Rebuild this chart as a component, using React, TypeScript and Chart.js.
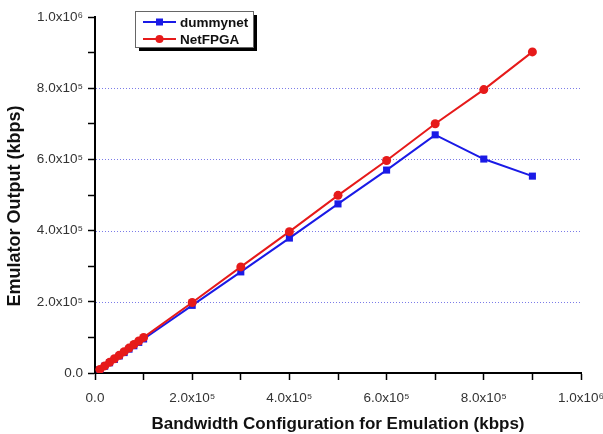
import React, { useEffect, useRef } from "react";
import { Chart, registerables } from "chart.js";

Chart.register(...registerables);

const bandwidthConfig = [10000, 20000, 30000, 40000, 50000, 60000, 70000, 80000, 90000, 100000, 200000, 300000, 400000, 500000, 600000, 700000, 800000, 900000];
const dummynetOutput = [9600, 19100, 28700, 38300, 47800, 57400, 67000, 76500, 86000, 95600, 190000, 284000, 379000, 475000, 570000, 669000, 601000, 553000];
const netfpgaOutput = [10000, 20000, 30000, 40000, 50000, 60000, 70000, 80000, 90000, 100000, 198000, 298000, 397000, 499000, 597000, 700000, 796000, 902000];

const tickValues = [0, 200000, 400000, 600000, 800000, 1000000];
const tickLabels = ["0.0", "2.0x10⁵", "4.0x10⁵", "6.0x10⁵", "8.0x10⁵", "1.0x10⁶"];
const gridValues = [200000, 400000, 600000, 800000];

const seriesNames = ["dummynet", "NetFPGA"];
const xTitle = "Bandwidth Configuration for Emulation (kbps)";
const yTitle = "Emulator Output (kbps)";
const BLUE = "#1a1ae6";
const RED = "#e61a1a";
const FAMILY = "'Liberation Sans', Arial, sans-serif";

const labelFor = (v: number) => {
  const i = tickValues.findIndex((t) => Math.abs(t - v) < 1);
  return i >= 0 ? tickLabels[i] : "";
};

const gridPlugin = {
  id: "dottedGrid",
  beforeDatasetsDraw(chart: any) {
    const { ctx, chartArea, scales } = chart;
    ctx.save();
    ctx.strokeStyle = "#7b7be8";
    ctx.lineWidth = 1;
    ctx.setLineDash([1, 2]);
    gridValues.forEach((v) => {
      const y = Math.round(scales.y.getPixelForValue(v)) + 0.5;
      ctx.beginPath();
      ctx.moveTo(chartArea.left + 1, y);
      ctx.lineTo(chartArea.right, y);
      ctx.stroke();
    });
    ctx.restore();
  },
};

const titlePlugin = {
  id: "axisTitles",
  afterDraw(chart: any) {
    const { ctx, chartArea } = chart;
    ctx.save();
    ctx.fillStyle = "#111";
    ctx.font = `bold 17px ${FAMILY}`;
    ctx.textAlign = "center";
    ctx.textBaseline = "alphabetic";
    ctx.fillText(xTitle, (chartArea.left + chartArea.right) / 2, 429);
    ctx.translate(15.5, 206);
    ctx.rotate(-Math.PI / 2);
    ctx.font = `bold 18px ${FAMILY}`;
    ctx.textBaseline = "middle";
    ctx.fillText(yTitle, 0, 0);
    ctx.restore();
  },
};

const legendPlugin = {
  id: "boxLegend",
  afterDraw(chart: any) {
    const { ctx } = chart;
    const x = 135, y = 11, w = 118, h = 36;
    ctx.save();
    ctx.fillStyle = "#000";
    ctx.fillRect(x + 4, y + 4, w, h);
    ctx.fillStyle = "#fff";
    ctx.fillRect(x, y, w, h);
    ctx.strokeStyle = "#666";
    ctx.lineWidth = 1;
    ctx.strokeRect(x + 0.5, y + 0.5, w, h);
    const rows = [y + 11, y + 28];
    const colors = [BLUE, RED];
    rows.forEach((ry, i) => {
      ctx.strokeStyle = colors[i];
      ctx.lineWidth = 2;
      ctx.beginPath();
      ctx.moveTo(x + 8, ry);
      ctx.lineTo(x + 41, ry);
      ctx.stroke();
      ctx.fillStyle = colors[i];
      if (i === 0) {
        ctx.fillRect(x + 21, ry - 3.5, 7, 7);
      } else {
        ctx.beginPath();
        ctx.arc(x + 24.5, ry, 4, 0, Math.PI * 2);
        ctx.fill();
      }
      ctx.fillStyle = "#111";
      ctx.font = `bold 13.5px ${FAMILY}`;
      ctx.textBaseline = "middle";
      ctx.textAlign = "left";
      ctx.fillText(seriesNames[i], x + 45, ry + 1);
    });
    ctx.restore();
  },
};

export default function App() {
  const ref = useRef<HTMLCanvasElement>(null);
  useEffect(() => {
    document.body.style.margin = "0";
    const canvas = ref.current;
    if (!canvas) return;
    const tickFont = { family: FAMILY, size: 13.5 };
    const chart = new Chart(canvas, {
      type: "line",
      data: {
        datasets: [
          {
            label: seriesNames[0],
            data: bandwidthConfig.map((x, i) => ({ x, y: dummynetOutput[i] })),
            borderColor: BLUE,
            backgroundColor: BLUE,
            borderWidth: 2,
            pointStyle: "rect",
            pointRadius: 5,
            pointBorderWidth: 0,
            order: 1,
          },
          {
            label: seriesNames[1],
            data: bandwidthConfig.map((x, i) => ({ x, y: netfpgaOutput[i] })),
            borderColor: RED,
            backgroundColor: RED,
            borderWidth: 2,
            pointStyle: "circle",
            pointRadius: 4.5,
            pointBorderWidth: 0,
            order: 0,
          },
        ],
      },
      options: {
        responsive: false,
        animation: false,
        layout: { padding: { top: 17, right: 22, left: 0, bottom: 0 } },
        plugins: { legend: { display: false }, tooltip: { enabled: false } },
        scales: {
          x: {
            type: "linear",
            min: 0,
            max: 1000000,
            afterFit: (s: any) => { s.height = 61; s.paddingLeft = 0; s.paddingRight = 0; },
            ticks: { stepSize: 100000, autoSkip: false, maxRotation: 0, padding: 10, color: "#333", font: tickFont, callback: (v: any) => labelFor(Number(v)) },
            grid: { display: true, drawOnChartArea: false, drawTicks: true, tickLength: 7, tickColor: "#000", tickWidth: 1.5 },
            border: { display: true, color: "#000", width: 2 },
            title: { display: false },
          },
          y: {
            type: "linear",
            min: 0,
            max: 1000000,
            afterFit: (s: any) => { s.width = 95; s.paddingTop = 0; s.paddingBottom = 0; },
            ticks: { stepSize: 100000, autoSkip: false, padding: 5, color: "#333", font: tickFont, callback: (v: any) => labelFor(Number(v)) },
            grid: { display: true, drawOnChartArea: false, drawTicks: true, tickLength: 7, tickColor: "#000", tickWidth: 1.5 },
            border: { display: true, color: "#000", width: 2 },
            title: { display: false },
          },
        },
      },
      plugins: [gridPlugin, titlePlugin, legendPlugin],
    } as any);
    return () => chart.destroy();
  }, []);
  return (
    <div style={{ position: "absolute", left: 0, top: 0, width: 603, height: 434, background: "#fff" }}>
      <canvas ref={ref} width={603} height={434} />
    </div>
  );
}
